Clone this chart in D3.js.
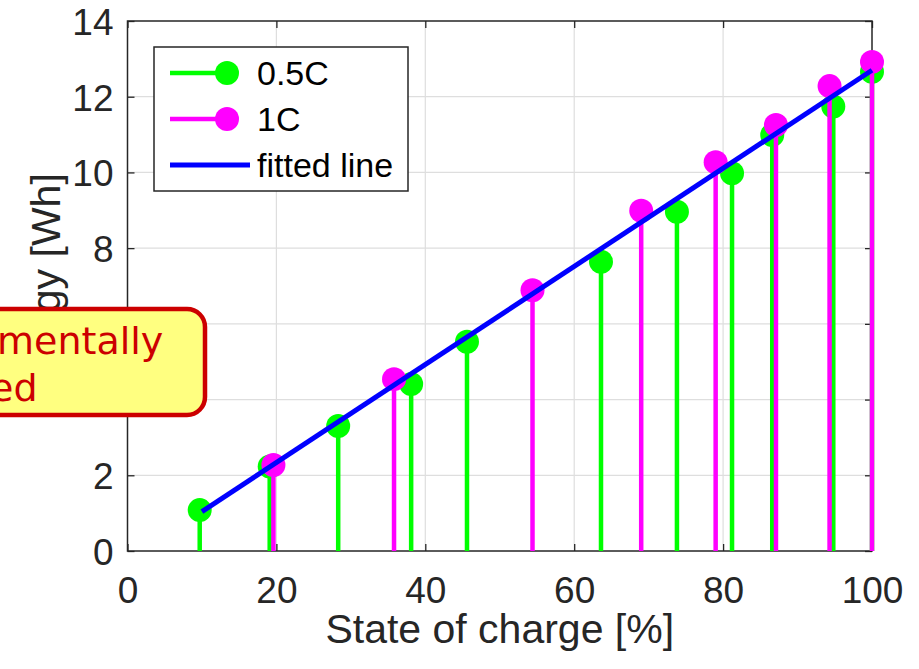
<!DOCTYPE html>
<html>
<head>
<meta charset="utf-8">
<script src="https://cdn.jsdelivr.net/npm/d3@7/dist/d3.min.js"></script>
<style>
  html, body { margin: 0; padding: 0; background: #ffffff; }
  svg { display: block; }
</style>
</head>
<body>
<script>
// ---- data ----
const soc05 = [9.7, 19.1, 28.3, 38.1, 45.6, 63.6, 73.8, 81.2, 86.6, 94.8, 100];
const energy05 = [1.08, 2.23, 3.30, 4.41, 5.53, 7.64, 8.96, 9.98, 10.99, 11.74, 12.66];
const soc1 = [19.6, 35.8, 54.4, 69.0, 79.0, 87.1, 94.3, 100];
const energy1 = [2.27, 4.54, 6.89, 8.99, 10.27, 11.25, 12.28, 12.92];
const fitSoc = [10, 100];
const fitEnergy = [1.04, 12.70];
const xTicks = [0, 20, 40, 60, 80, 100];
const yTicks = [0, 2, 4, 6, 8, 10, 12, 14];
const seriesNames = ["0.5C", "1C", "fitted line"];
const xLabel = "State of charge [%]";
const yLabel = "Energy [Wh]";
const noteLines = ["mentally", "ed"];

const W = 919, H = 669;
const C_GREEN = "#00ff00", C_MAG = "#ff00ff", C_BLUE = "#0000ff", C_AX = "#262626";

const svg = d3.select("body").append("svg").attr("width", W).attr("height", H);

const x = d3.scaleLinear().domain([0, 100]).range([127.5, 872]);
const y = d3.scaleLinear().domain([0, 14]).range([551, 21]);
const [x0, x1] = x.range();
const [y0, y1] = y.range();

// grid
const grid = svg.append("g");
grid.selectAll("line.gx").data(xTicks.slice(1, -1)).join("line")
  .attr("x1", d => x(d)).attr("x2", d => x(d)).attr("y1", y0).attr("y2", y1)
  .attr("stroke", "#dedede").attr("stroke-width", 1.2);
grid.selectAll("line.gy").data(yTicks.slice(1, -1)).join("line")
  .attr("y1", d => y(d)).attr("y2", d => y(d)).attr("x1", x0).attr("x2", x1)
  .attr("stroke", "#dedede").attr("stroke-width", 1.2);

// axes
const tickLen = 7;
function styleAxis(g) {
  g.select(".domain").remove();
  g.selectAll(".tick line").attr("stroke", C_AX).attr("stroke-width", 1.3);
  g.selectAll(".tick text").attr("fill", C_AX)
    .attr("font-family", "'Liberation Sans', Arial, sans-serif").attr("font-size", 37);
}
const gxB = svg.append("g").attr("transform", `translate(0,${y0})`)
  .call(d3.axisBottom(x).tickValues(xTicks).tickSizeInner(-tickLen).tickSizeOuter(0).tickPadding(26));
styleAxis(gxB);
const gxT = svg.append("g").attr("transform", `translate(0,${y1})`)
  .call(d3.axisTop(x).tickValues(xTicks).tickSizeInner(-tickLen).tickSizeOuter(0).tickFormat(""));
styleAxis(gxT);
const gyL = svg.append("g").attr("transform", `translate(${x0},0)`)
  .call(d3.axisLeft(y).tickValues(yTicks).tickSizeInner(-tickLen).tickSizeOuter(0).tickPadding(14));
styleAxis(gyL);
gyL.selectAll(".tick text").attr("dy", "0.36em");
const gyR = svg.append("g").attr("transform", `translate(${x1},0)`)
  .call(d3.axisRight(y).tickValues(yTicks).tickSizeInner(-tickLen).tickSizeOuter(0).tickFormat(""));
styleAxis(gyR);

// box
svg.append("rect").attr("x", x0).attr("y", y1).attr("width", x1 - x0).attr("height", y0 - y1)
  .attr("fill", "none").attr("stroke", C_AX).attr("stroke-width", 1.5);

// axis labels
svg.append("text").attr("x", (x0 + x1) / 2).attr("y", 643).attr("text-anchor", "middle")
  .attr("font-family", "'Liberation Sans', Arial, sans-serif").attr("font-size", 41)
  .attr("fill", C_AX).text(xLabel);
svg.append("text").attr("transform", `translate(60,${(y0 + y1) / 2}) rotate(-90)`)
  .attr("text-anchor", "middle")
  .attr("font-family", "'Liberation Sans', Arial, sans-serif").attr("font-size", 41)
  .attr("fill", C_AX).text(yLabel);

// stem series
function stems(xs, ys, color) {
  const g = svg.append("g");
  const pts = xs.map((d, i) => ({ s: d, e: ys[i] }));
  g.selectAll("line").data(pts).join("line")
    .attr("x1", d => x(d.s)).attr("x2", d => x(d.s))
    .attr("y1", y(0)).attr("y2", d => y(d.e))
    .attr("stroke", color).attr("stroke-width", 4.5);
  g.selectAll("circle").data(pts).join("circle")
    .attr("cx", d => x(d.s)).attr("cy", d => y(d.e)).attr("r", 12)
    .attr("fill", color);
}
stems(soc05, energy05, C_GREEN);
stems(soc1, energy1, C_MAG);

// fitted line
const fitPts = fitSoc.map((d, i) => [d, fitEnergy[i]]);
svg.append("path").datum(fitPts)
  .attr("d", d3.line().x(d => x(d[0])).y(d => y(d[1])))
  .attr("fill", "none").attr("stroke", C_BLUE).attr("stroke-width", 5);

// legend
const lg = svg.append("g");
lg.append("rect").attr("x", 154).attr("y", 47).attr("width", 254).attr("height", 144)
  .attr("fill", "#ffffff").attr("stroke", C_AX).attr("stroke-width", 1.5);
const legendItems = [
  { name: seriesNames[0], color: C_GREEN, marker: true },
  { name: seriesNames[1], color: C_MAG, marker: true },
  { name: seriesNames[2], color: C_BLUE, marker: false }
];
legendItems.forEach((it, i) => {
  const cy = 73 + i * 46;
  if (it.marker) {
    lg.append("line").attr("x1", 170).attr("x2", 227).attr("y1", cy).attr("y2", cy)
      .attr("stroke", it.color).attr("stroke-width", 4.5);
    lg.append("circle").attr("cx", 227).attr("cy", cy).attr("r", 12).attr("fill", it.color);
  } else {
    lg.append("line").attr("x1", 170).attr("x2", 250).attr("y1", cy).attr("y2", cy)
      .attr("stroke", it.color).attr("stroke-width", 5);
  }
  lg.append("text").attr("x", 257).attr("y", cy + 12)
    .attr("font-family", "'Liberation Sans', Arial, sans-serif").attr("font-size", 34)
    .attr("fill", "#000000").text(it.name);
});

// annotation callout (cropped at left edge)
const note = svg.append("g");
note.append("rect").attr("x", -40).attr("y", 309).attr("width", 245).attr("height", 106)
  .attr("rx", 18).attr("ry", 18)
  .attr("fill", "#ffff80").attr("stroke", "#cc0000").attr("stroke-width", 4.5);
note.selectAll("text").data(noteLines).join("text")
  .attr("x", (d, i) => i === 0 ? -3 : -10)
  .attr("y", (d, i) => 354 + i * 47)
  .attr("font-family", "'DejaVu Sans', Verdana, sans-serif").attr("font-size", 38)
  .attr("fill", "#cc0000").text(d => d);
</script>
</body>
</html>
